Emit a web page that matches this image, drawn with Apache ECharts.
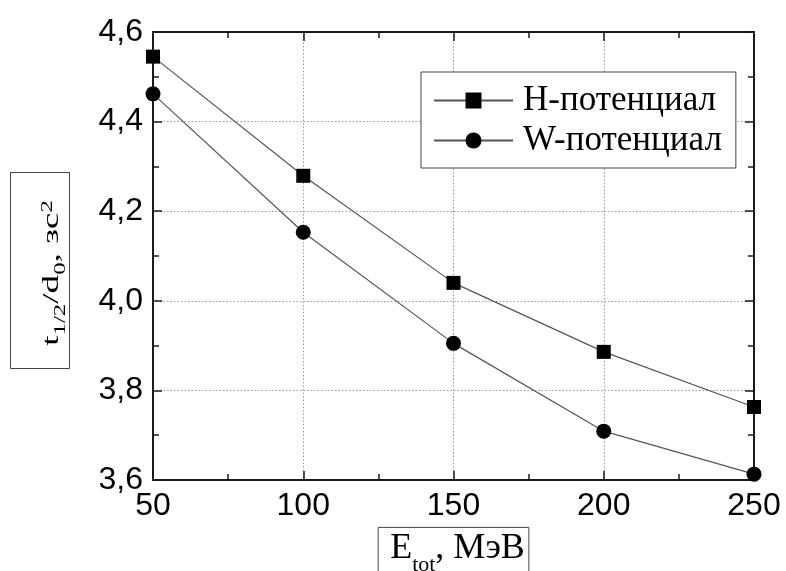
<!DOCTYPE html>
<html>
<head>
<meta charset="utf-8">
<script src="https://cdn.jsdelivr.net/npm/echarts@6/dist/echarts.min.js"></script>
<style>
html,body{margin:0;padding:0;background:#fff;}
#chart{width:786px;height:571px;}
</style>
</head>
<body>
<div id="chart"></div>
<script>
// ---- data ----
const energies = [50, 100, 150, 200, 250];               // E_tot, МэВ
const hPotential = [4.545, 4.279, 4.040, 3.886, 3.763];   // Н-потенциал
const wPotential = [4.462, 4.153, 3.905, 3.709, 3.613];   // W-потенциал
const seriesNames = ['Н-потенциал', 'W-потенциал'];
const xTicks = [50, 100, 150, 200, 250];
const yTicks = [3.6, 3.8, 4.0, 4.2, 4.4, 4.6];

const chart = echarts.init(document.getElementById('chart'));
const serif = 'Liberation Serif';
const sans = 'Liberation Sans';
const axisColor = '#1a1a1a';
const gridLine = {show: true, lineStyle: {color: '#9a9a9a', type: [1.5, 2], width: 1}};

function pairs(xs, ys) { return xs.map((x, i) => [x, ys[i]]); }
const fmtY = v => v.toFixed(1).replace('.', ',');

const baseX = {
  type: 'value', min: xTicks[0], max: xTicks[xTicks.length - 1], interval: 50,
  axisLine: {show: true, onZero: false, lineStyle: {color: axisColor, width: 2}},
  axisTick: {show: true, inside: true, length: 9, lineStyle: {color: axisColor, width: 1.5}},
  minorTick: {show: true, splitNumber: 2, length: 6, lineStyle: {color: axisColor, width: 1.5}}
};
const baseY = {
  type: 'value', min: yTicks[0], max: yTicks[yTicks.length - 1], interval: 0.2,
  axisLine: {show: true, onZero: false, lineStyle: {color: axisColor, width: 2}},
  axisTick: {show: true, inside: true, length: 9, lineStyle: {color: axisColor, width: 1.5}},
  minorTick: {show: true, splitNumber: 2, length: 6, lineStyle: {color: axisColor, width: 1.5}}
};

chart.setOption({
  animation: false,
  backgroundColor: '#fff',
  grid: {left: 153, top: 32, right: 32, bottom: 91, containLabel: false, outerBoundsMode: 'none'},
  xAxis: [
    Object.assign({}, baseX, {
      position: 'bottom',
      splitLine: gridLine,
      axisLabel: {show: true, margin: 10, color: '#000', fontFamily: sans, fontSize: 32,
                  showMinLabel: true, showMaxLabel: true},
      name: '{m|E}{s|tot}{m|, МэВ}',
      nameLocation: 'middle',
      nameGap: 40,
      nameTextStyle: {
        borderColor: '#444', borderWidth: 1, padding: [3, 4, 40, 12],
        rich: {
          m: {fontFamily: serif, fontSize: 36, color: '#000', lineHeight: 46, verticalAlign: 'top'},
          s: {fontFamily: serif, fontSize: 22, color: '#000', lineHeight: 4, verticalAlign: 'bottom'}
        }
      }
    }),
    Object.assign({}, baseX, {
      position: 'top',
      splitLine: {show: false},
      axisLabel: {show: false}
    })
  ],
  yAxis: [
    Object.assign({}, baseY, {
      position: 'left',
      splitLine: gridLine,
      axisLabel: {show: true, margin: 10, color: '#000', fontFamily: sans, fontSize: 32,
                  formatter: fmtY, showMinLabel: true, showMaxLabel: true}
    }),
    Object.assign({}, baseY, {
      position: 'right',
      splitLine: {show: false},
      axisLabel: {show: false}
    })
  ],
  legend: {
    orient: 'vertical',
    left: 421, top: 72,
    padding: [11, 14, 10, 12],
    itemGap: 5,
    itemWidth: 79,
    itemHeight: 20,
    backgroundColor: '#fff',
    borderColor: '#444',
    borderWidth: 1,
    borderRadius: 0,
    textStyle: {fontFamily: serif, fontSize: 35, color: '#000', lineHeight: 35, padding: [0, 0, 0, 5]},
    data: seriesNames
  },
  graphic: [
    {type: 'rect', left: 10, top: 172, shape: {x: 0, y: 0, width: 59, height: 196},
     style: {fill: '#fff', stroke: '#444', lineWidth: 1}, z: 10},
    {type: 'text', x: 54, y: 273, rotation: Math.PI / 2, scaleX: 1.55, z: 11,
     style: {
       text: '{m|t}{s|1/2}{m|/d}{s|0}{m|, зс}{p|2}',
       align: 'center', verticalAlign: 'middle',
       rich: {
         m: {fontFamily: serif, fontSize: 24, fill: '#000', lineHeight: 29, verticalAlign: 'top'},
         s: {fontFamily: serif, fontSize: 16, fill: '#000', lineHeight: 4, verticalAlign: 'bottom'},
         p: {fontFamily: serif, fontSize: 16, fill: '#000', lineHeight: 4, verticalAlign: 'top'}
       }
     }}
  ],
  series: [
    {
      name: seriesNames[0], type: 'line', data: pairs(energies, hPotential),
      symbol: 'rect', symbolSize: 14,
      itemStyle: {color: '#000'},
      lineStyle: {color: '#555', width: 1.2},
      clip: false, z: 3
    },
    {
      name: seriesNames[1], type: 'line', data: pairs(energies, wPotential),
      symbol: 'circle', symbolSize: 15,
      itemStyle: {color: '#000'},
      lineStyle: {color: '#555', width: 1.2},
      clip: false, z: 3
    }
  ]
});
</script>
</body>
</html>
